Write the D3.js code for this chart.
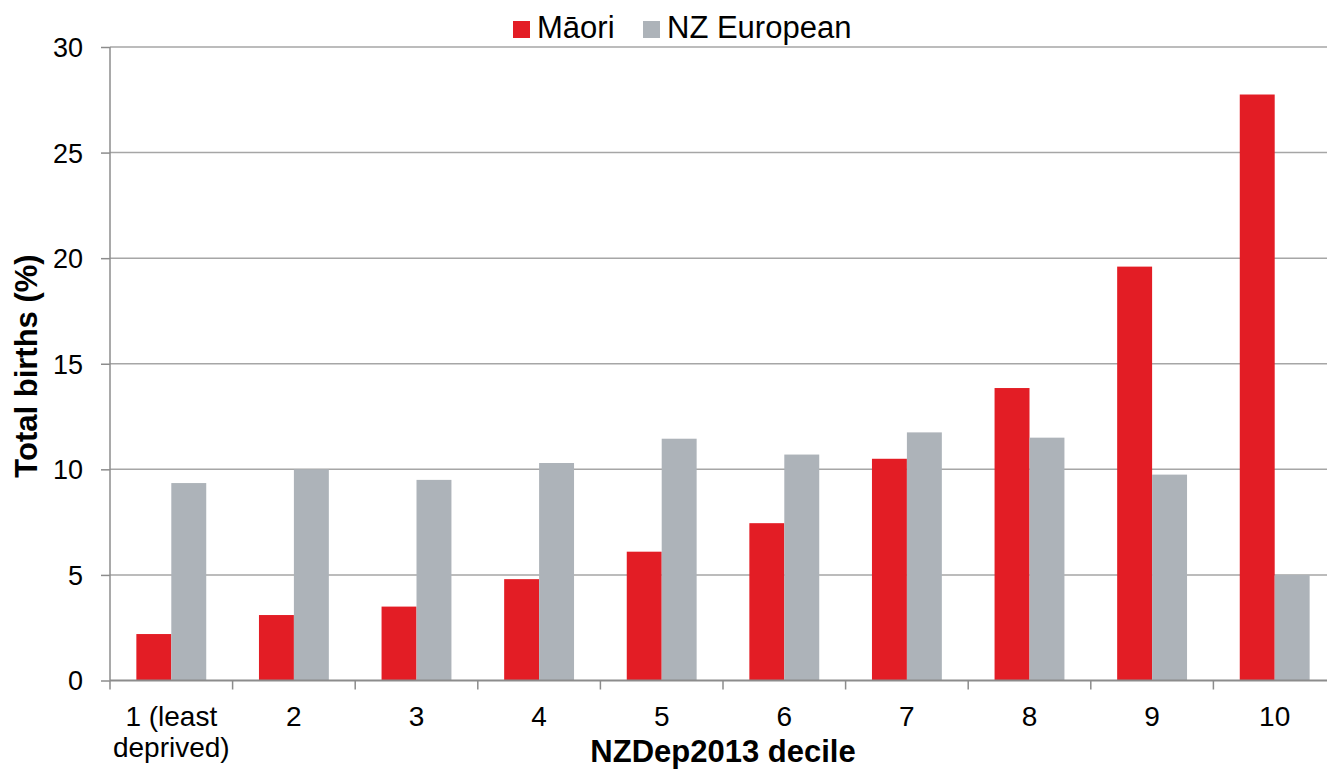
<!doctype html>
<html lang="en">
<head>
<meta charset="utf-8">
<title>Total births by NZDep2013 decile</title>
<script src="https://d3js.org/d3.v7.min.js"></script>
<style>
  body { margin: 0; background: #fff; }
  text { font-family: "Liberation Sans", Arial, sans-serif; fill: #000; }
</style>
</head>
<body>
<div id="chart"></div>
<script>
// Data
var deciles = ['1 (least|deprived)', '2', '3', '4', '5', '6', '7', '8', '9', '10'];
var maori = [2.2, 3.1, 3.5, 4.8, 6.1, 7.45, 10.5, 13.85, 19.6, 27.75];
var nzEuropean = [9.35, 10.0, 9.5, 10.3, 11.45, 10.7, 11.75, 11.5, 9.75, 5.0];
var seriesNames = ['Māori', 'NZ European'];
var yTicks = [0, 5, 10, 15, 20, 25, 30];

var colors = d3.scaleOrdinal().domain(seriesNames).range(['#e31d25', '#adb3b9']);

var width = 1327, height = 769;
var margin = {top: 47, right: -9, bottom: 88.5, left: 110};
var innerW = width - margin.left - margin.right;
var innerH = height - margin.top - margin.bottom;

var svg = d3.select('#chart').append('svg')
  .attr('width', width)
  .attr('height', height);

var g = svg.append('g')
  .attr('transform', 'translate(' + margin.left + ',' + margin.top + ')');

// Scales
var x = d3.scaleBand().domain(deciles).range([0, innerW]).paddingInner(0.43).paddingOuter(0.215);
var x1 = d3.scaleBand().domain(seriesNames).range([0, x.bandwidth()]);
var y = d3.scaleLinear().domain([0, 30]).range([innerH, 0]);

// Gridlines
g.append('g').selectAll('line')
  .data(yTicks.filter(function(d) { return d > 0; }))
  .enter().append('line')
  .attr('x1', 0).attr('x2', innerW)
  .attr('y1', function(d) { return y(d); })
  .attr('y2', function(d) { return y(d); })
  .attr('stroke', '#a6a6a6')
  .attr('stroke-width', 1.5);

// Bars
var rows = deciles.map(function(d, i) {
  return {decile: d, values: [{key: seriesNames[0], v: maori[i]}, {key: seriesNames[1], v: nzEuropean[i]}]};
});

g.append('g').selectAll('g')
  .data(rows)
  .enter().append('g')
  .attr('transform', function(d) { return 'translate(' + x(d.decile) + ',0)'; })
  .selectAll('rect')
  .data(function(d) { return d.values; })
  .enter().append('rect')
  .attr('x', function(d) { return x1(d.key); })
  .attr('width', x1.bandwidth())
  .attr('y', function(d) { return y(d.v); })
  .attr('height', function(d) { return innerH - y(d.v); })
  .attr('fill', function(d) { return colors(d.key); });

// Y axis
var yAxis = g.append('g')
  .call(d3.axisLeft(y).tickValues(yTicks).tickSize(9).tickPadding(18));
yAxis.select('.domain').attr('stroke', '#8c8c8c').attr('stroke-width', 1.5).attr('d', 'M0,' + innerH + 'V0');
yAxis.selectAll('.tick line').attr('stroke', '#8c8c8c').attr('stroke-width', 1.5);
yAxis.selectAll('.tick text').style('font-size', '27px').attr('dy', '0.35em');

// X axis
var xAxisG = g.append('g').attr('transform', 'translate(0,' + innerH + ')');
xAxisG.append('line')
  .attr('x1', 0).attr('x2', innerW)
  .attr('stroke', '#8c8c8c').attr('stroke-width', 2);
var gap = x.step() - x.bandwidth();
xAxisG.selectAll('.xtick')
  .data(deciles)
  .enter().append('line')
  .attr('class', 'xtick')
  .attr('x1', function(d) { return x(d) - gap / 2; })
  .attr('x2', function(d) { return x(d) - gap / 2; })
  .attr('y1', 0).attr('y2', 9)
  .attr('stroke', '#8c8c8c').attr('stroke-width', 1.5);

var xLabels = xAxisG.selectAll('.xlabel')
  .data(deciles)
  .enter().append('text')
  .attr('class', 'xlabel')
  .attr('text-anchor', 'middle')
  .attr('transform', function(d) { return 'translate(' + (x(d) + x.bandwidth() / 2) + ',45)'; })
  .style('font-size', '28px');
xLabels.selectAll('tspan')
  .data(function(d) { return d.split('|'); })
  .enter().append('tspan')
  .attr('x', 0)
  .attr('dy', function(d, i) { return i === 0 ? 0 : 31; })
  .text(function(d) { return d; });

// Axis titles
svg.append('text')
  .attr('x', 723)
  .attr('y', 762)
  .attr('text-anchor', 'middle')
  .style('font-size', '31px')
  .style('font-weight', 'bold')
  .text('NZDep2013 decile');

svg.append('text')
  .attr('transform', 'translate(37,' + 366 + ')rotate(-90)')
  .attr('text-anchor', 'middle')
  .style('font-size', '31px')
  .style('font-weight', 'bold')
  .text('Total births (%)');

// Legend
var legend = svg.append('g').attr('transform', 'translate(513,0)');
var legendX = [0, 130];
seriesNames.forEach(function(name, i) {
  legend.append('rect')
    .attr('x', legendX[i]).attr('y', 21)
    .attr('width', 17).attr('height', 17)
    .attr('fill', colors(name));
  legend.append('text')
    .attr('x', legendX[i] + 24).attr('y', 38)
    .style('font-size', '31px')
    .text(name);
});
</script>
</body>
</html>
